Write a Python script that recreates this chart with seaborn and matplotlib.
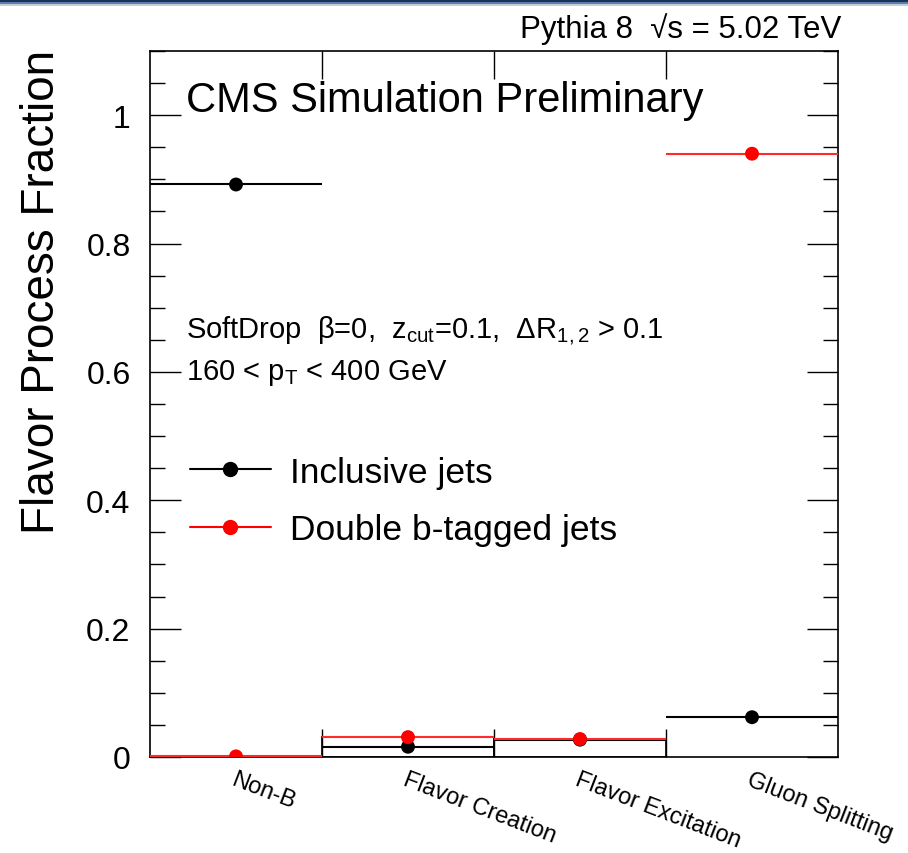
import matplotlib
matplotlib.use("Agg")
import matplotlib.pyplot as plt
import seaborn as sns
import pandas as pd
import numpy as np
from matplotlib.ticker import MultipleLocator, FixedLocator, NullFormatter
from matplotlib.lines import Line2D
from matplotlib.patches import Rectangle

categories = ["Non-B", "Flavor Creation", "Flavor Excitation", "Gluon Splitting"]
inclusive = [0.892, 0.016, 0.027, 0.062]
double_b = [0.001, 0.031, 0.028, 0.940]
boxed = [False, True, True, False]

sns.set_theme(style="ticks")
plt.rcParams['font.family'] = ['Liberation Sans', 'DejaVu Sans']
plt.rcParams['mathtext.fontset'] = 'custom'
plt.rcParams['mathtext.rm'] = 'Liberation Sans'
plt.rcParams['mathtext.it'] = 'Liberation Sans'
for k in ['text.color', 'axes.labelcolor', 'xtick.color', 'ytick.color', 'axes.edgecolor']:
    plt.rcParams[k] = 'black'

df = pd.DataFrame({
    "cat": categories * 2,
    "x": list(range(len(categories))) * 2,
    "val": inclusive + double_b,
    "series": ["Inclusive jets"] * 4 + ["Double b-tagged jets"] * 4,
})

fig = plt.figure(figsize=(9.08, 8.54), dpi=100)
ax = fig.add_axes([150/908, 96/854, 688/908, 706/854])

# unfilled boxes for the middle bins
box_h = [max(a, b) if k else 0 for a, b, k in zip(inclusive, double_b, boxed)]
for i, (h, k) in enumerate(zip(box_h, boxed)):
    if k:
        ax.bar(i, h, width=1.0, fill=False, edgecolor="black", linewidth=1.2, zorder=1)

# horizontal bin lines
xs = np.arange(len(categories))
ax.hlines(inclusive, xs - 0.5, xs + 0.5, colors="black", linewidth=1.5, zorder=2)
ax.hlines(double_b, xs - 0.5, xs + 0.5, colors="#ff2a2a", linewidth=1.5, zorder=3)

sns.scatterplot(data=df, x="x", y="val", hue="series",
                palette={"Inclusive jets": "black", "Double b-tagged jets": "#ff0000"},
                s=100, edgecolor="none", legend=False, ax=ax, zorder=4)

ax.set_xlim(-0.5, 3.5)
ax.set_ylim(0, 1.1)
ax.set_xlabel("")
ax.set_ylabel("Flavor Process Fraction", fontsize=33)
ax.yaxis.set_label_coords(-0.125, 0.66)

ax.yaxis.set_major_locator(FixedLocator([0, 0.2, 0.4, 0.6, 0.8, 1.0]))
ax.set_yticklabels(["0", "0.2", "0.4", "0.6", "0.8", "1"])
ax.yaxis.set_minor_locator(MultipleLocator(0.05))
ax.tick_params(axis="y", which="major", direction="in", length=22, width=1,
               labelsize=23, left=True, right=True, pad=14)
ax.tick_params(axis="y", which="minor", direction="in", length=11, width=1,
               left=True, right=True)

ax.xaxis.set_major_locator(FixedLocator([0.5, 1.5, 2.5]))
ax.xaxis.set_major_formatter(NullFormatter())
ax.xaxis.set_minor_locator(FixedLocator(list(range(len(categories)))))
ax.set_xticklabels(categories, minor=True)
ax.tick_params(axis="x", which="major", direction="in", length=20, width=1,
               top=True, bottom=True)
ax.tick_params(axis="x", which="minor", length=0, labelsize=17, pad=8)
for lbl in ax.get_xticklabels(minor=True):
    lbl.set_rotation(-21)
    lbl.set_ha("left")
    lbl.set_rotation_mode("anchor")

for sp in ax.spines.values():
    sp.set_linewidth(1.2)
    sp.set_color("black")

ax.text(0.052, 0.93, "CMS Simulation Preliminary", transform=ax.transAxes,
        fontsize=30, va="center", ha="left")
ax.text(1.005, 1.01, "Pythia 8  \u221As = 5.02 TeV", transform=ax.transAxes,
        fontsize=22.5, va="bottom", ha="right")
ax.text(0.052, 0.605,
        r"SoftDrop  $\beta$=0,  z$_{\mathregular{cut}}$=0.1,  $\Delta$R$_{\mathregular{1,2}}$ > 0.1",
        transform=ax.transAxes, fontsize=21, va="center", ha="left")
ax.text(0.052, 0.545, r"160 < p$_{\mathregular{T}}$ < 400 GeV",
        transform=ax.transAxes, fontsize=21, va="center", ha="left")

handles = [
    Line2D([], [], color="black", marker="o", markersize=10, linewidth=1.5, label="Inclusive jets"),
    Line2D([], [], color="#ff0000", marker="o", markersize=10, linewidth=1.5, label="Double b-tagged jets"),
]
ax.legend(handles=handles, loc="upper left", bbox_to_anchor=(0.0575, 0.427), frameon=False,
          fontsize=25.5, handlelength=2.3, handletextpad=0.55, labelspacing=0.7,
          borderaxespad=0, borderpad=0)

# slide header band
fig.patches.append(Rectangle((0, 1 - 3/854), 1, 3/854, transform=fig.transFigure,
                             facecolor="#1a3358", edgecolor="none"))
fig.patches.append(Rectangle((0, 1 - 5/854), 1, 2/854, transform=fig.transFigure,
                             facecolor="#5b7fb0", edgecolor="none"))
fig.patches.append(Rectangle((0, 1 - 7/854), 1, 2/854, transform=fig.transFigure,
                             facecolor="#c8ccd4", edgecolor="none"))

fig.savefig("out.png", dpi=100)
